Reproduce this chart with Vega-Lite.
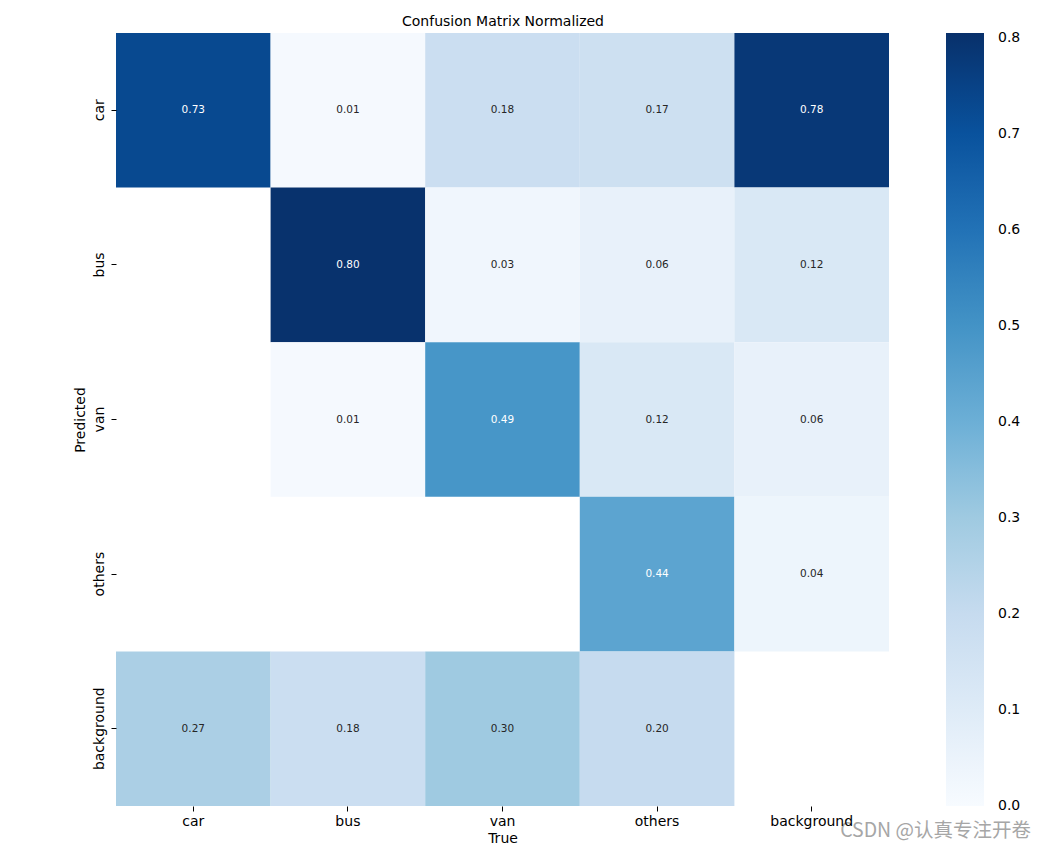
{
  "$schema": "https://vega.github.io/schema/vega-lite/v6.json",
  "autosize": "none",
  "width": 773,
  "height": 773,
  "padding": {"left": 116, "top": 33, "right": 158, "bottom": 45},
  "background": "white",
  "config": {
    "font": "DejaVu Sans",
    "view": {"stroke": null},
    "axis": {"grid": false, "domain": false, "minExtent": 0}
  },
  "title": {
    "text": "CSDN @认真专注开卷",
    "orient": "bottom",
    "anchor": "end",
    "frame": "bounds",
    "font": "Noto Sans CJK SC",
    "fontSize": 19.5,
    "fontWeight": "normal",
    "color": "#a6a6a6",
    "offset": -23,
    "dx": 10
  },
  "data": {
    "values": [
      {"predicted": "car", "true": "car", "value": 0.73},
      {"predicted": "car", "true": "bus", "value": 0.01},
      {"predicted": "car", "true": "van", "value": 0.18},
      {"predicted": "car", "true": "others", "value": 0.17},
      {"predicted": "car", "true": "background", "value": 0.78},
      {"predicted": "bus", "true": "bus", "value": 0.80},
      {"predicted": "bus", "true": "van", "value": 0.03},
      {"predicted": "bus", "true": "others", "value": 0.06},
      {"predicted": "bus", "true": "background", "value": 0.12},
      {"predicted": "van", "true": "bus", "value": 0.01},
      {"predicted": "van", "true": "van", "value": 0.49},
      {"predicted": "van", "true": "others", "value": 0.12},
      {"predicted": "van", "true": "background", "value": 0.06},
      {"predicted": "others", "true": "others", "value": 0.44},
      {"predicted": "others", "true": "background", "value": 0.04},
      {"predicted": "background", "true": "car", "value": 0.27},
      {"predicted": "background", "true": "bus", "value": 0.18},
      {"predicted": "background", "true": "van", "value": 0.30},
      {"predicted": "background", "true": "others", "value": 0.20}
    ]
  },
  "encoding": {
    "y": {
      "field": "predicted",
      "type": "nominal",
      "sort": ["car", "bus", "van", "others", "background"],
      "scale": {"domain": ["car", "bus", "van", "others", "background"], "paddingInner": 0, "paddingOuter": 0},
      "axis": {
        "title": "Predicted",
        "labelAngle": 270,
        "labelAlign": "center",
        "labelBaseline": "bottom",
        "labelFontSize": 14,
        "labelColor": "#000000",
        "labelPadding": 5,
        "tickSize": 5,
        "tickColor": "#000000",
        "titleFontSize": 14,
        "titleFontWeight": "normal",
        "titleColor": "#000000",
        "titlePadding": 5
      }
    }
  },
  "layer": [
    {
      "mark": {"type": "rect", "strokeWidth": 0},
      "encoding": {
        "x": {
          "field": "true",
          "type": "nominal",
          "sort": ["car", "bus", "van", "others", "background"],
          "scale": {"domain": ["car", "bus", "van", "others", "background"], "paddingInner": 0, "paddingOuter": 0},
          "axis": {
            "title": "True",
            "orient": "bottom",
            "labelAngle": 0,
            "labelFontSize": 14,
            "labelColor": "#000000",
            "labelPadding": 3,
            "tickSize": 5,
            "tickColor": "#000000",
            "titleFontSize": 14,
            "titleFontWeight": "normal",
            "titleColor": "#000000",
            "titlePadding": 3
          }
        },
        "color": {
          "field": "value",
          "type": "quantitative",
          "scale": {
            "domain": [0, 0.100625, 0.20125, 0.301875, 0.4025, 0.503125, 0.60375, 0.704375, 0.805],
            "range": ["#f7fbff", "#deebf7", "#c6dbef", "#9ecae1", "#6baed6", "#4292c6", "#2171b5", "#08519c", "#08306b"],
            "interpolate": "rgb"
          },
          "legend": {
            "orient": "right",
            "offset": 57,
            "gradientLength": 773,
            "gradientThickness": 38,
            "gradientStrokeWidth": 0,
            "values": [0, 0.1, 0.2, 0.3, 0.4, 0.5, 0.6, 0.7, 0.8],
            "format": ".1f",
            "labelFontSize": 14,
            "labelColor": "#000000",
            "labelOffset": 14,
            "labelBaseline": "middle",
            "labelOverlap": false,
            "title": null,
            "encode": {
              "labels": {"update": {"baseline": {"value": "middle"}}}
            }
          }
        }
      }
    },
    {
      "mark": {"type": "text", "fontSize": 10.5, "font": "DejaVu Sans"},
      "encoding": {
        "x": {
          "field": "true",
          "type": "nominal",
          "sort": ["car", "bus", "van", "others", "background"],
          "axis": {
            "title": "Confusion Matrix Normalized",
            "orient": "top",
            "labels": false,
            "ticks": false,
            "titleFontSize": 14,
            "titleFontWeight": "normal",
            "titleColor": "#000000",
            "titlePadding": 5
          }
        },
        "text": {"field": "value", "type": "quantitative", "format": ".2f"},
        "color": {
          "condition": {"test": "datum.value > 0.4", "value": "#ffffff"},
          "value": "#262626"
        }
      }
    }
  ],
  "resolve": {"axis": {"x": "independent"}}
}
